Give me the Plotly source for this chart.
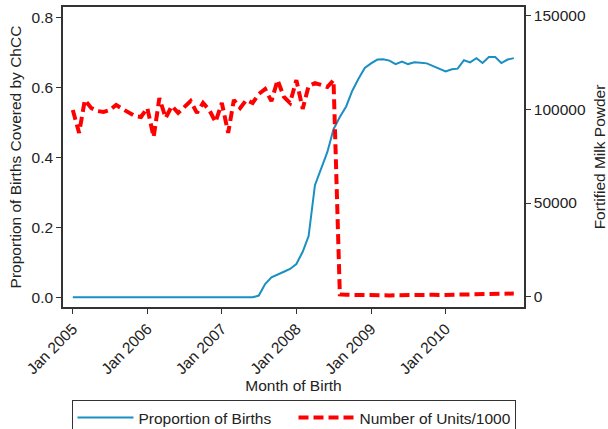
import plotly.graph_objects as go
import pandas as pd

months = pd.date_range("2005-01-01", "2010-12-01", freq="MS")

# Proportion of births covered by ChCC (left axis)
proportion = [0.0] * 30 + [
    0.005, 0.038, 0.057, 0.066, 0.073, 0.081, 0.095, 0.13, 0.175, 0.32,
    0.368, 0.415, 0.48, 0.515, 0.545, 0.59, 0.625, 0.655, 0.668, 0.679,
    0.68, 0.676, 0.666, 0.673, 0.666, 0.671, 0.670, 0.668, 0.66, 0.652,
    0.645, 0.651, 0.653, 0.677, 0.671, 0.683, 0.669, 0.686, 0.686, 0.669,
    0.679, 0.683,
]

# Fortified milk powder, number of units/1000 (right axis)
units = [
    99600, 87400, 105000, 100700, 99100, 98600, 99600, 102300, 100200, 98600,
    96400, 95900, 100700, 85200, 106000, 95400, 101800, 98100, 101200, 104400,
    98100, 103400, 99600, 93200, 103400, 87400, 105000, 100700, 105000, 103400,
    108200, 110800, 104400, 115600, 106600, 103400, 115600, 100200, 112400, 114000,
    113000, 111900, 115600,
    1200, 1000, 900, 800, 900, 700, 800, 600, 700, 800,
    900, 800, 900, 800, 900, 1000, 900, 1000, 1100, 1200,
    1300, 1200, 1400, 1500, 1600, 1700, 1800, 1600, 1700,
]

left_ticks = [0.0, 0.2, 0.4, 0.6, 0.8]
right_ticks = [0, 50000, 100000, 150000]
year_ticks = pd.date_range("2005-01-01", "2010-01-01", freq="YS")

fig = go.Figure()
fig.add_trace(go.Scatter(
    x=months, y=proportion, mode="lines", name="Proportion of Births",
    line=dict(color="#1a8fc2", width=2), yaxis="y",
))
fig.add_trace(go.Scatter(
    x=months, y=units, mode="lines", name="Number of Units/1000",
    line=dict(color="#ff0000", width=4, dash="10px,5px"), yaxis="y2",
))

axis_col = "#333333"
font_family = "Liberation Sans, Arial, sans-serif"
fs = 15.5

fig.update_layout(
    width=608, height=429,
    margin=dict(l=63, r=84, t=7, b=122, autoexpand=False),
    paper_bgcolor="white", plot_bgcolor="white",
    font=dict(family=font_family, size=fs, color="#222222"),
    showlegend=True,
    legend=dict(
        orientation="h", x=0.5, xanchor="center", y=-0.31, yanchor="top",
        bordercolor=axis_col, borderwidth=1, bgcolor="white",
        font=dict(size=fs), itemwidth=56, entrywidth=150,
    ),
    xaxis=dict(
        type="date", range=["2004-11-14", "2011-01-20"],
        tickvals=list(year_ticks), tickformat="%b %Y", tickangle=-45,
        ticks="outside", ticklen=5, tickcolor=axis_col,
        showline=True, linecolor=axis_col, linewidth=1.5, mirror=True,
        showgrid=False, zeroline=False, automargin=False,
        title=dict(text="Month of Birth", font=dict(size=fs), standoff=1),
    ),
    yaxis=dict(
        range=[-0.0277, 0.829], tickvals=left_ticks, tickformat=".1f",
        ticks="outside", ticklen=5, tickcolor=axis_col,
        showline=True, linecolor=axis_col, linewidth=1.5,
        showgrid=False, zeroline=False, automargin=False,
        title=dict(text="Proportion of Births Covered by ChCC", font=dict(size=fs), standoff=6),
    ),
    yaxis2=dict(
        overlaying="y", side="right",
        range=[-5500, 154600], tickvals=right_ticks, tickformat="d",
        ticks="outside", ticklen=5, tickcolor=axis_col,
        showline=True, linecolor=axis_col, linewidth=1.5,
        showgrid=False, zeroline=False, automargin=False,
        title=dict(text="Fortified Milk Powder", font=dict(size=fs), standoff=9),
    ),
)

fig.write_html(
    "out.html",
    config={"displayModeBar": False},
    post_script="document.body.style.margin='0';document.body.style.padding='0';",
)
